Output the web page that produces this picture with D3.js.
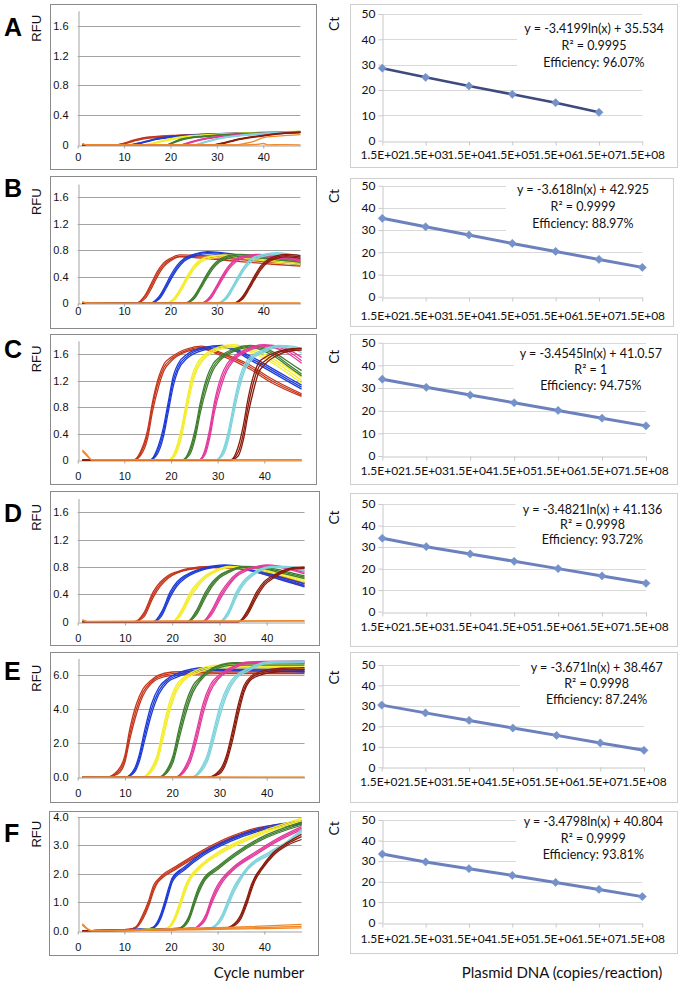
<!DOCTYPE html>
<html><head><meta charset="utf-8">
<script src="https://cdn.jsdelivr.net/npm/d3@7"></script>
<style>body{margin:0;background:#fff}svg{display:block}</style>
</head><body>
<svg id="c" width="683" height="985"></svg>
<script>
// ---------------- DATA ----------------
const panelLetters = ["A","B","C","D","E","F"];
const groupColors = ["#c4361b","#1e3cd6","#f4ed2c","#3e7e2e","#e23a9b","#7ed3dc","#8c1b0c"];
const ntcColor = "#f0892b";
const cycleTicks = [0,10,20,30,40];
const rfuMaxes = [1.8,1.8,1.8,1.8,7,4];
const rfuTicksAD = [0,0.4,0.8,1.2,1.6];
const rfuTickLabelsAD = ["0","0.4","0.8","1.2","1.6"];
const rfuTicksE = [0,2,4,6];
const rfuTickLabelsE = ["0.0","2.0","4.0","6.0"];
const rfuTicksF = [0,1,2,3,4];
const rfuTickLabelsF = ["0.0","1.0","2.0","3.0","4.0"];

const copies = ["1.5E+02","1.5E+03","1.5E+04","1.5E+05","1.5E+06","1.5E+07","1.5E+08"];
const ctTicks = [0,10,20,30,40,50];
const ctA = [28.6,25.0,21.6,18.3,15.0,11.2];
const ctB = [35.3,31.5,27.8,24.0,20.4,16.8,13.2];
const ctC = [33.9,30.3,26.9,23.5,20.1,16.7,13.3];
const ctD = [34.1,30.2,26.8,23.4,20.0,16.6,13.2];
const ctE = [30.4,26.6,22.9,19.2,15.6,11.9,8.3];
const ctF = [33.4,29.6,26.3,23.0,19.6,16.2,12.7];
const eqA = ["y = -3.4199ln(x) + 35.534","R\u00b2 = 0.9995","Efficiency: 96.07%"];
const eqB = ["y = -3.618ln(x) + 42.925","R\u00b2 = 0.9999","Efficiency: 88.97%"];
const eqC = ["y = -3.4545ln(x) + 41.0.57","R\u00b2 = 1","Efficiency: 94.75%"];
const eqD = ["y = -3.4821ln(x) + 41.136","R\u00b2 = 0.9998","Efficiency: 93.72%"];
const eqE = ["y = -3.671ln(x) + 38.467","R\u00b2 = 0.9998","Efficiency: 87.24%"];
const eqF = ["y = -3.4798ln(x) + 40.804","R\u00b2 = 0.9999","Efficiency: 93.81%"];

// amplification curves: per dilution group [cycles, rep1, rep2, rep3]
const curvesA = [
 [[1,8,10,12,14,17,21,27,35,42,48],[0,0,0.02,0.06,0.09,0.11,0.125,0.14,0.155,0.165,0.17],[0,0,0.015,0.05,0.08,0.1,0.12,0.135,0.15,0.16,0.165],[0,0,0.025,0.065,0.095,0.115,0.13,0.145,0.16,0.17,0.175]],
 [[1,11,13,15,17,20,25,32,40,48],[0,0,0.02,0.05,0.08,0.11,0.13,0.15,0.165,0.175],[0,0,0.015,0.045,0.075,0.1,0.125,0.145,0.16,0.17],[0,0,0.025,0.055,0.085,0.115,0.135,0.155,0.17,0.18]],
 [[1,14,16,18,20,23,27,33,40,48],[0,0,0.02,0.05,0.08,0.11,0.13,0.15,0.165,0.18],[0,0,0.015,0.045,0.07,0.1,0.125,0.145,0.16,0.175],[0,0,0.025,0.055,0.085,0.115,0.135,0.155,0.17,0.185]],
 [[1,19,20.5,22,24,27,31,36,42,48],[0,0,0.03,0.07,0.095,0.115,0.135,0.15,0.165,0.175],[0,0,0.025,0.06,0.09,0.11,0.13,0.145,0.16,0.17],[0,0,0.035,0.075,0.1,0.12,0.14,0.155,0.17,0.18]],
 [[1,22,24,26,28,31,35,40,44,48],[0,0,0.03,0.065,0.09,0.115,0.135,0.155,0.165,0.175],[0,0,0.025,0.06,0.085,0.11,0.13,0.15,0.16,0.17],[0,0,0.035,0.07,0.095,0.12,0.14,0.16,0.17,0.18]],
 [[1,25,27,29,31,34,38,42,45,48],[0,0,0.03,0.065,0.095,0.12,0.145,0.16,0.17,0.18],[0,0,0.025,0.06,0.09,0.115,0.14,0.155,0.165,0.175],[0,0,0.035,0.07,0.1,0.125,0.15,0.165,0.175,0.185]],
 [[1,29,31,33,35,38,41,44,48],[0,0,0.02,0.05,0.08,0.11,0.135,0.155,0.17],[0,0,0.015,0.045,0.075,0.105,0.13,0.15,0.165],[0,0,0.025,0.055,0.085,0.115,0.14,0.16,0.175]]
];
const ntcA = [
 [[1,2,34,36,38,40,43,48],[0.02,0,0,0.02,0.05,0.1,0.12,0.14]],
 [[1,2,36,39,40,41,44,48],[0.015,0,0,0.01,0.02,0.003,0.004,0.002]]
];
const curvesB = [
 [[1,12.5,14.5,16,17,18.5,20,22,27,35,42,48],[0,0,0.1,0.28,0.42,0.58,0.66,0.71,0.7,0.66,0.62,0.59],[0,0,0.07,0.24,0.38,0.55,0.64,0.7,0.68,0.63,0.59,0.56],[0,0,0.12,0.32,0.46,0.61,0.68,0.73,0.72,0.68,0.64,0.62]],
 [[1,15.5,17.5,19,20,21.5,23,25,28,34,41,48],[0,0,0.08,0.25,0.38,0.55,0.66,0.73,0.77,0.72,0.66,0.6],[0,0,0.06,0.22,0.35,0.52,0.64,0.71,0.75,0.7,0.64,0.58],[0,0,0.1,0.28,0.42,0.58,0.68,0.74,0.78,0.74,0.68,0.63]],
 [[1,19,21,22.5,23.5,25,26.5,28.5,32,38,43,48],[0,0,0.08,0.25,0.37,0.54,0.64,0.7,0.72,0.68,0.64,0.61],[0,0,0.06,0.22,0.34,0.51,0.62,0.68,0.7,0.66,0.62,0.59],[0,0,0.1,0.27,0.4,0.56,0.66,0.71,0.73,0.7,0.66,0.63]],
 [[1,23,25,26.5,27.5,29,30.5,32.5,35,40,44,48],[0,0,0.08,0.25,0.37,0.54,0.64,0.7,0.73,0.7,0.67,0.64],[0,0,0.06,0.22,0.34,0.51,0.62,0.68,0.71,0.68,0.65,0.62],[0,0,0.1,0.27,0.4,0.56,0.66,0.72,0.74,0.72,0.69,0.66]],
 [[1,26.5,28.5,30,31,32.5,34,36,39,43,46,48],[0,0,0.08,0.25,0.37,0.54,0.65,0.71,0.73,0.7,0.68,0.66],[0,0,0.06,0.22,0.34,0.51,0.62,0.69,0.71,0.68,0.66,0.64],[0,0,0.1,0.27,0.4,0.56,0.67,0.72,0.74,0.72,0.7,0.68]],
 [[1,30,32,33.5,34.5,36,37.5,39.5,43,46,48],[0,0,0.08,0.25,0.37,0.55,0.66,0.72,0.76,0.73,0.71],[0,0,0.06,0.22,0.34,0.52,0.63,0.7,0.74,0.71,0.69],[0,0,0.1,0.27,0.4,0.57,0.68,0.73,0.76,0.74,0.72]],
 [[1,33.5,35.5,37,38,39.5,41,43,45,47,48],[0,0,0.08,0.25,0.37,0.54,0.64,0.7,0.72,0.71,0.7],[0,0,0.06,0.22,0.34,0.51,0.62,0.68,0.7,0.69,0.68],[0,0,0.1,0.27,0.4,0.57,0.66,0.72,0.74,0.73,0.72]]
];
const ntcB = [
 [[1,2,10,48],[0.025,0.005,0,0]],
 [[1,2,30,48],[0.02,0,0.005,0.005]]
];
const curvesC = [
 [[1,12,13.5,15,16,17.4,18.5,20,23.5,26.5,30,37,41,48],[0,0,0.1,0.4,0.8,1.2,1.4,1.52,1.66,1.7,1.62,1.4,1.22,0.98],[0,0,0.07,0.33,0.72,1.12,1.35,1.49,1.64,1.68,1.6,1.37,1.19,0.96],[0,0,0.13,0.46,0.86,1.26,1.45,1.55,1.68,1.72,1.64,1.43,1.25,1.0]],
 [[1,15.5,17,18.3,19.4,20.5,21.5,23.5,27,31,38,43,48],[0,0,0.12,0.4,0.8,1.2,1.4,1.57,1.68,1.72,1.5,1.3,1.1],[0,0,0.08,0.33,0.72,1.12,1.35,1.54,1.66,1.7,1.47,1.27,1.07],[0,0,0.16,0.47,0.87,1.27,1.45,1.6,1.7,1.73,1.53,1.33,1.13]],
 [[1,19.5,21,22.2,23.3,24.5,25.5,27.2,30,33,39,44,48],[0,0,0.12,0.4,0.8,1.2,1.4,1.56,1.68,1.72,1.6,1.4,1.2],[0,0,0.08,0.33,0.72,1.12,1.35,1.53,1.66,1.7,1.57,1.36,1.16],[0,0,0.16,0.47,0.87,1.27,1.45,1.59,1.7,1.74,1.63,1.44,1.25]],
 [[1,22.4,24,25.2,26.3,27.8,29,30.5,33.5,37,42,45,48],[0,0,0.12,0.4,0.8,1.2,1.4,1.53,1.66,1.72,1.6,1.45,1.3],[0,0,0.08,0.33,0.72,1.12,1.35,1.5,1.64,1.7,1.57,1.42,1.27],[0,0,0.16,0.47,0.87,1.27,1.45,1.56,1.68,1.73,1.63,1.49,1.35]],
 [[1,26,27.3,28.3,29.3,30.8,32,33.3,36,40,44,48],[0,0,0.12,0.4,0.8,1.2,1.4,1.52,1.65,1.73,1.68,1.5],[0,0,0.08,0.33,0.72,1.12,1.35,1.49,1.63,1.71,1.65,1.46],[0,0,0.16,0.47,0.87,1.27,1.45,1.55,1.67,1.74,1.7,1.55]],
 [[1,29.6,31.2,32.4,33.5,34.8,35.8,37,40,43,46,48],[0,0,0.12,0.4,0.8,1.2,1.4,1.52,1.65,1.72,1.7,1.65],[0,0,0.08,0.33,0.72,1.12,1.35,1.49,1.63,1.7,1.68,1.62],[0,0,0.16,0.47,0.87,1.27,1.45,1.55,1.67,1.73,1.72,1.68]],
 [[1,32.8,34.4,35.5,36.5,37.8,38.8,40.2,43,46,48],[0,0,0.12,0.4,0.8,1.2,1.4,1.5,1.62,1.67,1.68],[0,0,0.06,0.3,0.68,1.08,1.32,1.45,1.59,1.65,1.66],[0,0,0.2,0.52,0.92,1.3,1.47,1.55,1.64,1.68,1.69]]
];
const ntcC = [
 [[1,2,3,10,48],[0.15,0.08,0,0,0]],
 [[1,2,3,48],[0.13,0.06,0.005,0.005]]
];
const curvesD = [
 [[1,12,14,16,17.5,19.2,21,23.5,28,33,38,43,48],[0,0,0.1,0.4,0.55,0.66,0.72,0.77,0.8,0.79,0.74,0.65,0.55],[0,0,0.07,0.36,0.52,0.64,0.71,0.76,0.79,0.78,0.72,0.62,0.52],[0,0,0.13,0.44,0.58,0.68,0.73,0.78,0.81,0.8,0.76,0.67,0.57]],
 [[1,16,17.8,19.6,21,22.8,25,27,31,36,40,44,48],[0,0,0.12,0.4,0.55,0.66,0.74,0.78,0.82,0.77,0.7,0.61,0.53],[0,0,0.09,0.36,0.52,0.64,0.72,0.77,0.81,0.76,0.68,0.59,0.51],[0,0,0.15,0.44,0.58,0.68,0.75,0.79,0.83,0.79,0.72,0.63,0.56]],
 [[1,20,21.8,23.9,25.5,27.1,29,32,36,40,44,48],[0,0,0.12,0.4,0.55,0.66,0.74,0.8,0.79,0.75,0.68,0.6],[0,0,0.09,0.36,0.52,0.64,0.72,0.79,0.78,0.73,0.66,0.58],[0,0,0.15,0.44,0.58,0.68,0.75,0.81,0.8,0.77,0.7,0.63]],
 [[1,23.2,25,27.1,28.5,30,32,35,39,42,45,48],[0,0,0.12,0.4,0.55,0.66,0.74,0.8,0.79,0.75,0.7,0.65],[0,0,0.09,0.36,0.52,0.64,0.72,0.79,0.78,0.73,0.68,0.63],[0,0,0.15,0.44,0.58,0.68,0.75,0.81,0.8,0.77,0.72,0.67]],
 [[1,26.4,28.2,30.4,32,33.6,35.5,38,40,43,48],[0,0,0.12,0.4,0.56,0.68,0.76,0.8,0.82,0.8,0.72],[0,0,0.09,0.36,0.53,0.66,0.74,0.79,0.81,0.79,0.7],[0,0,0.15,0.44,0.59,0.7,0.77,0.81,0.83,0.81,0.74]],
 [[1,30,31.8,33.6,35,36.8,38.5,41,44,48],[0,0,0.12,0.4,0.56,0.68,0.76,0.8,0.8,0.76],[0,0,0.09,0.36,0.53,0.66,0.74,0.79,0.79,0.74],[0,0,0.15,0.44,0.59,0.7,0.77,0.81,0.81,0.78]],
 [[1,34,35.8,37.9,39.5,41.5,43.5,45.5,48],[0,0,0.12,0.4,0.56,0.66,0.74,0.78,0.79],[0,0,0.09,0.36,0.53,0.64,0.72,0.77,0.78],[0,0,0.15,0.44,0.59,0.68,0.75,0.79,0.8]]
];
const ntcD = [
 [[1,2,20,48],[0.03,0.005,0.01,0.015]],
 [[1,2,30,48],[0.02,0,0.005,0.01]]
];
const curvesE = [
 [[1,6,8.5,10,11,12.4,13.8,15.5,17,20,30,48],[0,0,0.3,1.1,2.5,4,5,5.6,5.9,6.1,6.2,6.2],[0,0,0.2,0.9,2.2,3.7,4.8,5.5,5.8,6.0,6.1,6.1],[0,0,0.4,1.3,2.8,4.3,5.2,5.7,6.0,6.2,6.3,6.35]],
 [[1,10,12,13,14.2,15.6,17.2,19,21,27,48],[0,0,0.4,1.1,2.5,4,5.1,5.7,6.0,6.35,6.3],[0,0,0.3,0.9,2.2,3.7,4.9,5.6,5.9,6.3,6.2],[0,0,0.5,1.3,2.8,4.3,5.3,5.8,6.1,6.45,6.4]],
 [[1,13.5,15.5,16.8,18,19.3,20.8,22.5,25,30,48],[0,0,0.4,1.1,2.5,4,5.2,5.8,6.2,6.55,6.5],[0,0,0.3,0.9,2.2,3.7,5.0,5.7,6.1,6.45,6.4],[0,0,0.5,1.3,2.8,4.3,5.4,5.9,6.3,6.6,6.6]],
 [[1,17,19,20.2,21.4,22.8,24.4,26,28,33,48],[0,0,0.4,1.1,2.5,4,5.2,5.8,6.3,6.7,6.7],[0,0,0.3,0.9,2.2,3.7,5.0,5.7,6.2,6.6,6.6],[0,0,0.5,1.3,2.8,4.3,5.4,5.9,6.35,6.75,6.75]],
 [[1,20.5,22.5,23.8,25.2,26.5,28,29.8,32,36,48],[0,0,0.4,1.1,2.5,4,5.2,5.9,6.35,6.75,6.8],[0,0,0.3,0.9,2.2,3.7,5.0,5.8,6.25,6.7,6.75],[0,0,0.5,1.3,2.8,4.3,5.4,6.0,6.4,6.8,6.85]],
 [[1,24,26,27.4,28.8,30.2,31.8,33.5,36,40,48],[0,0,0.4,1.1,2.5,4,5.2,5.9,6.35,6.75,6.8],[0,0,0.3,0.9,2.2,3.7,5.0,5.8,6.25,6.7,6.75],[0,0,0.5,1.3,2.8,4.3,5.4,6.0,6.4,6.8,6.85]],
 [[1,27.5,30,31.5,32.8,34,35.2,36.5,38.5,42,48],[0,0,0.3,1.1,2.5,4,5.2,5.8,6.1,6.3,6.35],[0,0,0.2,0.9,2.2,3.7,5.0,5.7,6.0,6.2,6.25],[0,0,0.4,1.3,2.8,4.3,5.4,5.9,6.2,6.4,6.45]]
];
const ntcE = [
 [[1,48],[0,0]],
 [[1,24,48],[0.01,0.02,0.01]]
];
const curvesF = [
 [[1,3,11,12.5,14,15.3,16.3,17.2,18.1,21,26,32,37,44,48],[0,0,0.05,0.12,0.5,1.0,1.5,1.75,1.9,2.2,2.7,3.2,3.5,3.7,3.8],[0,0,0.05,0.1,0.42,0.9,1.4,1.7,1.85,2.15,2.65,3.15,3.45,3.65,3.75],[0,0,0.05,0.14,0.58,1.1,1.6,1.8,1.95,2.25,2.75,3.25,3.55,3.75,3.85]],
 [[1,3,15,16.3,17.8,18.8,19.6,20.3,23,27,33,38,48],[0,0,0.06,0.12,0.5,1.0,1.45,1.8,2.2,2.7,3.2,3.5,3.8],[0,0,0.06,0.1,0.42,0.9,1.35,1.72,2.15,2.65,3.15,3.45,3.75],[0,0,0.06,0.14,0.58,1.1,1.55,1.86,2.25,2.75,3.25,3.55,3.85]],
 [[1,3,18.5,19.6,21,22.1,23,23.9,26,30,36,48],[0,0,0.07,0.13,0.5,1.0,1.45,1.8,2.2,2.7,3.2,3.9],[0,0,0.07,0.11,0.42,0.9,1.35,1.72,2.15,2.65,3.15,3.85],[0,0,0.07,0.15,0.58,1.1,1.55,1.86,2.25,2.75,3.25,3.95]],
 [[1,3,21.5,22.4,24,25,26,27.1,30,34,39,48],[0,0,0.08,0.13,0.5,1.0,1.45,1.8,2.2,2.7,3.2,3.75],[0,0,0.08,0.11,0.42,0.9,1.35,1.72,2.15,2.65,3.15,3.7],[0,0,0.08,0.15,0.58,1.1,1.55,1.86,2.25,2.75,3.25,3.8]],
 [[1,3,25,25.7,27.5,28.6,29.8,31.1,33.5,38,43,48],[0,0,0.09,0.14,0.5,1.0,1.45,1.8,2.2,2.7,3.2,3.6],[0,0,0.09,0.12,0.42,0.9,1.35,1.72,2.15,2.65,3.15,3.55],[0,0,0.09,0.16,0.58,1.1,1.55,1.86,2.25,2.75,3.25,3.65]],
 [[1,3,28.5,29.3,31,32.3,33.5,34.7,36.5,41,45,48],[0,0,0.1,0.15,0.5,1.0,1.45,1.8,2.2,2.7,3.1,3.5],[0,0,0.1,0.13,0.42,0.9,1.35,1.72,2.15,2.65,3.05,3.45],[0,0,0.1,0.17,0.58,1.1,1.55,1.86,2.25,2.75,3.15,3.55]],
 [[1,3,32,33,35,36.2,37.2,37.9,39.5,42,45,48],[0,0,0.1,0.15,0.5,1.0,1.5,1.8,2.2,2.7,3.05,3.3],[0,0,0.1,0.13,0.42,0.9,1.4,1.72,2.15,2.65,3.0,3.2],[0,0,0.1,0.17,0.58,1.1,1.6,1.86,2.25,2.75,3.1,3.38]]
];
const ntcF = [
 [[1,3,20,35,48],[0.25,0,0.06,0.13,0.22]],
 [[1,3,20,35,48],[0.22,0,0.04,0.09,0.15]],
 [[1,3,25,48],[0.2,0,0.03,0.1]]
];

// ---------------- LAYOUT ----------------
const svg = d3.select("#c");
const leftLayout = [
 {frame:[50,4,316,169], x:[77.7,300.4], y:[145,10.8], xLab:157, letterY:36, rfuY:28.3},
 {frame:[50,176,316,328], x:[77.7,300.4], y:[303.3,184.1], xLab:311, letterY:196.7, rfuY:201.7},
 {frame:[50,334,316,484], x:[77.7,301.6], y:[460,340.8], xLab:476, letterY:358.3, rfuY:359},
 {frame:[50,491,319,645], x:[77.7,304.5], y:[621.7,498.6], xLab:637.7, letterY:521.7, rfuY:517.5},
 {frame:[50,652,319,802], x:[77.7,304.5], y:[777.3,658.4], xLab:792.7, letterY:680, rfuY:678.3},
 {frame:[49,811,318,955], x:[77.7,301.6], y:[930.7,816.7], xLab:946.7, letterY:841.7, rfuY:834.2}
];
const rightLayout = [
 {frame:[350,4,677,167], x:[382.3,642.3], y:[140.7,14], xLab:154, ctY:23.8, eq:[594,28.3,17]},
 {frame:[350,178,673,326], x:[382.3,642.3], y:[296.7,185.7], xLab:314.5, ctY:196, eq:[583,190,16.7]},
 {frame:[350,334,677,484], x:[382.3,646], y:[456,342.7], xLab:470.3, ctY:356.7, eq:[590.8,353.3,16.4]},
 {frame:[350,493,677,646], x:[382.3,646], y:[611.7,504], xLab:625.8, ctY:517.5, eq:[592.5,509.3,15]},
 {frame:[350,652,677,802], x:[381.7,644], y:[767.3,665], xLab:781.7, ctY:677.5, eq:[596.7,667.3,16]},
 {frame:[350,811,677,953], x:[382.3,642.3], y:[922.7,820], xLab:938, ctY:828.3, eq:[593.3,821.7,16.7]}
];
const allCurves = [curvesA,curvesB,curvesC,curvesD,curvesE,curvesF];
const allNtc = [ntcA,ntcB,ntcC,ntcD,ntcE,ntcF];
const allCt = [ctA,ctB,ctC,ctD,ctE,ctF];
const allEq = [eqA,eqB,eqC,eqD,eqE,eqF];
const tickSets = [
 [rfuTicksAD,rfuTickLabelsAD],[rfuTicksAD,rfuTickLabelsAD],[rfuTicksAD,rfuTickLabelsAD],
 [rfuTicksAD,rfuTickLabelsAD],[rfuTicksE,rfuTickLabelsE],[rfuTicksF,rfuTickLabelsF]
];
const leftFont = "'Liberation Sans', Arial, sans-serif";
const rightFont = "Lato, 'Open Sans', sans-serif";

panelLetters.forEach((letter, p) => {
  // ---------- left panel ----------
  const L = leftLayout[p];
  const g = svg.append("g");
  g.append("rect").attr("x",L.frame[0]+0.5).attr("y",L.frame[1]+0.5)
    .attr("width",L.frame[2]-L.frame[0]).attr("height",L.frame[3]-L.frame[1])
    .attr("fill","#fff").attr("stroke","#8a8a8a").attr("stroke-width",1);
  const x = d3.scaleLinear().domain([0,48]).range(L.x);
  const y = d3.scaleLinear().domain([0,rfuMaxes[p]]).range(L.y);
  const [tv, tl] = tickSets[p];
  g.selectAll(".grid").data(tv.filter(v=>v>0)).join("line")
    .attr("x1",x(0)).attr("x2",x(48)).attr("y1",d=>Math.round(y(d))+0.5).attr("y2",d=>Math.round(y(d))+0.5)
    .attr("stroke","#a3a3a3").attr("stroke-width",1);
  const yAxis = d3.axisLeft(y).tickValues(tv).tickFormat((d,i)=>tl[i]).tickSize(0).tickPadding(10);
  const ya = g.append("g").attr("transform",`translate(${Math.round(x(0))+0.5},0)`).call(yAxis);
  ya.select(".domain").attr("stroke","#a3a3a3");
  ya.selectAll("text").attr("font-family",leftFont).attr("font-size",11).attr("fill","#111");
  const xAxis = d3.axisBottom(x).tickValues(cycleTicks).tickFormat(d3.format("d")).tickSize(3).tickSizeOuter(0);
  const xa = g.append("g").attr("transform",`translate(0,${Math.round(y(0))+0.5})`).call(xAxis);
  xa.select(".domain").attr("stroke","#a3a3a3");
  xa.selectAll(".tick line").attr("stroke","#a3a3a3");
  xa.selectAll("text").attr("font-family",leftFont).attr("font-size",11).attr("fill","#111")
    .attr("y", L.xLab - y(0)).attr("dy","0.35em");
  const line = d3.line().x(d=>x(d[0])).y(d=>y(d[1])).curve(d3.curveMonotoneX);
  allCurves[p].forEach((grp, gi) => {
    const cyc = grp[0];
    grp.slice(1).forEach(rep => {
      g.append("path").attr("d", line(cyc.map((c,i)=>[c,rep[i]])))
        .attr("fill","none").attr("stroke",groupColors[gi]).attr("stroke-width",1.3);
    });
  });
  allNtc[p].forEach(n => {
    g.append("path").attr("d", line(n[0].map((c,i)=>[c,n[1][i]])))
      .attr("fill","none").attr("stroke",ntcColor).attr("stroke-width",1.3);
  });
  svg.append("text").attr("x",4).attr("y",L.letterY).text(letter)
    .attr("font-family",leftFont).attr("font-weight","bold").attr("font-size",25).attr("fill","#000");
  svg.append("text").attr("transform",`translate(41,${L.rfuY}) rotate(-90)`).attr("text-anchor","middle")
    .text("RFU").attr("font-family",leftFont).attr("font-size",13).attr("fill","#111");

  // ---------- right panel ----------
  const R = rightLayout[p];
  const h = svg.append("g");
  h.append("rect").attr("x",R.frame[0]+0.5).attr("y",R.frame[1]+0.5)
    .attr("width",R.frame[2]-R.frame[0]).attr("height",R.frame[3]-R.frame[1])
    .attr("fill","#fff").attr("stroke","#cfcfcf").attr("stroke-width",1);
  const xr = d3.scalePoint().domain(copies).range(R.x).padding(0);
  const yr = d3.scaleLinear().domain([0,50]).range(R.y);
  h.selectAll(".grid").data(ctTicks.filter(v=>v>0)).join("line")
    .attr("x1",xr(copies[0])).attr("x2",R.x[1]).attr("y1",d=>Math.round(yr(d))+0.5).attr("y2",d=>Math.round(yr(d))+0.5)
    .attr("stroke","#d9d9d9").attr("stroke-width",1);
  const yAxR = d3.axisLeft(yr).tickValues(ctTicks).tickSize(4).tickPadding(3).tickSizeOuter(0);
  const yra = h.append("g").attr("transform",`translate(${Math.round(R.x[0])+0.5},0)`).call(yAxR);
  yra.selectAll(".domain, .tick line").attr("stroke","#c8c8c8");
  yra.selectAll("text").attr("font-family",rightFont).attr("font-size",12).attr("fill","#111");
  const xAxR = d3.axisBottom(xr).tickSize(4).tickSizeOuter(0).tickPadding(3);
  const xra = h.append("g").attr("transform",`translate(0,${Math.round(yr(0))+0.5})`).call(xAxR);
  xra.selectAll(".domain, .tick line").attr("stroke","#c8c8c8");
  xra.selectAll("text").attr("font-family",rightFont).attr("font-size",12).attr("fill","#111")
    .attr("y", R.xLab - yr(0)).attr("dy","0.35em");
  const eq = allEq[p];
  h.append("rect").attr("x",R.eq[0]-77).attr("y",R.eq[1]-8).attr("width",154).attr("height",R.eq[2]*2+17).attr("fill","#fff");
  eq.forEach((t,i)=>{
    h.append("text").attr("x",R.eq[0]).attr("y",R.eq[1]+i*R.eq[2]).attr("dy","0.35em").attr("text-anchor","middle")
      .text(t).attr("font-family",rightFont).attr("font-size",12.5).attr("fill","#111");
  });
  const ct = allCt[p];
  const pts = ct.map((v,i)=>[copies[i],v]);
  h.append("path").attr("d", d3.line().x(d=>xr(d[0])).y(d=>yr(d[1]))(pts))
    .attr("fill","none").attr("stroke", p===0 ? "#3f4a7c" : "#6c80bd").attr("stroke-width", p===0 ? 2.6 : 3);
  h.selectAll(".mk").data(pts).join("path")
    .attr("transform",d=>`translate(${xr(d[0])},${yr(d[1])}) rotate(45)`)
    .attr("d", d3.symbol(d3.symbolSquare, 34)())
    .attr("fill","#7591c9").attr("stroke","#7591c9").attr("stroke-width",0.5);
  svg.append("text").attr("transform",`translate(339,${R.ctY}) rotate(-90)`).attr("text-anchor","middle")
    .text("Ct").attr("font-family",rightFont).attr("font-size",14).attr("fill","#111");
});

svg.append("text").attr("x",259).attr("y",973).attr("dy","0.35em").attr("text-anchor","middle")
  .text("Cycle number").attr("font-family",rightFont).attr("font-size",15).attr("fill","#111");
svg.append("text").attr("x",562).attr("y",973).attr("dy","0.35em").attr("text-anchor","middle")
  .text("Plasmid DNA (copies/reaction)").attr("font-family",rightFont).attr("font-size",15).attr("fill","#111");
</script>
</body></html>
